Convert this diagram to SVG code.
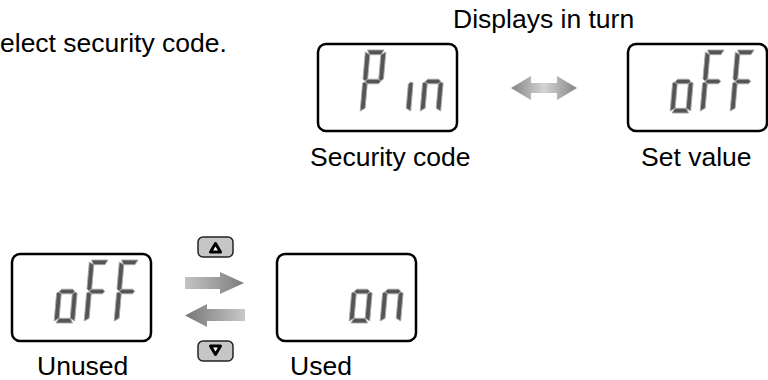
<svg xmlns="http://www.w3.org/2000/svg" xmlns:xlink="http://www.w3.org/1999/xlink" width="768" height="380" viewBox="0 0 768 380">
<style>
text{font-family:"Liberation Sans",Arial,sans-serif;font-size:26.5px;fill:#000}
.box{fill:#fff;stroke:#000;stroke-width:2.5}
.seg{fill:#555;stroke:#a8a8a8;stroke-width:0.9;stroke-linejoin:round}
.btn{fill:#c6c6c6;stroke:#222;stroke-width:1.5}
.tri{fill:#fff;stroke:#000;stroke-width:3;stroke-linejoin:round}
</style>
<defs>
<polygon id="sa" class="seg" points="2,-63 18.5,-63 15.8,-58.3 4.5,-58.3"/>
<polygon id="sb" class="seg" points="20.5,-61 20.5,-34 18,-32 15.8,-34 15.8,-58.3"/>
<polygon id="sc" class="seg" points="20.5,-30 20.5,-2 15.8,-4.7 15.8,-29 18,-31"/>
<polygon id="sd" class="seg" points="4.7,-4.7 15.8,-4.7 18.5,0 2,0"/>
<polygon id="se" class="seg" points="0,-30 2.2,-31 4.7,-29 4.7,-4.7 0,-2"/>
<polygon id="sf" class="seg" points="0,-61 4.7,-58.3 4.7,-34 2.2,-32 0,-34"/>
<polygon id="sg" class="seg" points="2.5,-31.5 4.7,-33.8 15.8,-33.8 18,-31.5 15.8,-29.2 4.7,-29.2"/>
<linearGradient id="gR" x1="0" x2="1" y1="0" y2="0"><stop offset="0" stop-color="#c4c4c4"/><stop offset="1" stop-color="#7c7c7c"/></linearGradient>
<linearGradient id="gL" x1="0" x2="1" y1="0" y2="0"><stop offset="0" stop-color="#767676"/><stop offset="1" stop-color="#c8c8c8"/></linearGradient>
<linearGradient id="gD" x1="0" x2="1" y1="0" y2="0"><stop offset="0" stop-color="#858585"/><stop offset="0.5" stop-color="#d4d4d4"/><stop offset="1" stop-color="#858585"/></linearGradient>
</defs>

<text x="0" y="52" font-size="26">elect security code.</text>
<text x="453" y="28">Displays in turn</text>

<g id="node-pin">
<rect class="box" x="318" y="44" width="139" height="87" rx="8"/>
<g transform="translate(360,113) skewX(-5)"><use xlink:href="#sa"/><use xlink:href="#sb"/><use xlink:href="#sf"/><use xlink:href="#sg"/><use xlink:href="#se"/></g>
<g transform="translate(390,113) skewX(-5)"><use xlink:href="#sc"/></g>
<g transform="translate(420,113) skewX(-5)"><use xlink:href="#sc"/><use xlink:href="#se"/><use xlink:href="#sg"/></g>
<text x="310" y="166">Security code</text>
</g>

<g id="node-setvalue">
<rect class="box" x="628" y="44" width="139" height="87" rx="8"/>
<g transform="translate(670,113) skewX(-5)"><use xlink:href="#sc"/><use xlink:href="#sd"/><use xlink:href="#se"/><use xlink:href="#sg"/></g>
<g transform="translate(700,113) skewX(-5)"><use xlink:href="#sa"/><use xlink:href="#sf"/><use xlink:href="#sg"/><use xlink:href="#se"/></g>
<g transform="translate(730,113) skewX(-5)"><use xlink:href="#sa"/><use xlink:href="#sf"/><use xlink:href="#sg"/><use xlink:href="#se"/></g>
<text x="641" y="166">Set value</text>
</g>

<g id="node-unused">
<rect class="box" x="12" y="254" width="139" height="87" rx="8"/>
<g transform="translate(54,323) skewX(-5)"><use xlink:href="#sc"/><use xlink:href="#sd"/><use xlink:href="#se"/><use xlink:href="#sg"/></g>
<g transform="translate(84,323) skewX(-5)"><use xlink:href="#sa"/><use xlink:href="#sf"/><use xlink:href="#sg"/><use xlink:href="#se"/></g>
<g transform="translate(114,323) skewX(-5)"><use xlink:href="#sa"/><use xlink:href="#sf"/><use xlink:href="#sg"/><use xlink:href="#se"/></g>
<text x="37" y="375">Unused</text>
</g>

<g id="node-used">
<rect class="box" x="277" y="254" width="139" height="87" rx="8"/>
<g transform="translate(349,323) skewX(-5)"><use xlink:href="#sc"/><use xlink:href="#sd"/><use xlink:href="#se"/><use xlink:href="#sg"/></g>
<g transform="translate(380,323) skewX(-5)"><use xlink:href="#sc"/><use xlink:href="#se"/><use xlink:href="#sg"/></g>
<text x="290" y="375">Used</text>
</g>

<g id="connectors">
<polygon fill="url(#gD)" points="511,88 531,76 531,83 557,83 557,76 577,88 557,100 557,93 531,93 531,100"/>
<polygon fill="url(#gR)" points="185,277 220,277 220,272 244,283 220,294 220,289 185,289"/>
<polygon fill="url(#gL)" points="245,309 207,309 207,304 185,315.5 207,327 207,321 245,321"/>
<g id="btn-up">
<rect class="btn" x="198" y="237" width="35" height="20" rx="5"/>
<polygon class="tri" points="210.5,252 220.5,252 215.5,243.5"/>
</g>
<g id="btn-down">
<rect class="btn" x="198" y="341" width="35" height="20" rx="5"/>
<polygon class="tri" points="210.5,346 220.5,346 215.5,354.5"/>
</g>
</g>
</svg>
